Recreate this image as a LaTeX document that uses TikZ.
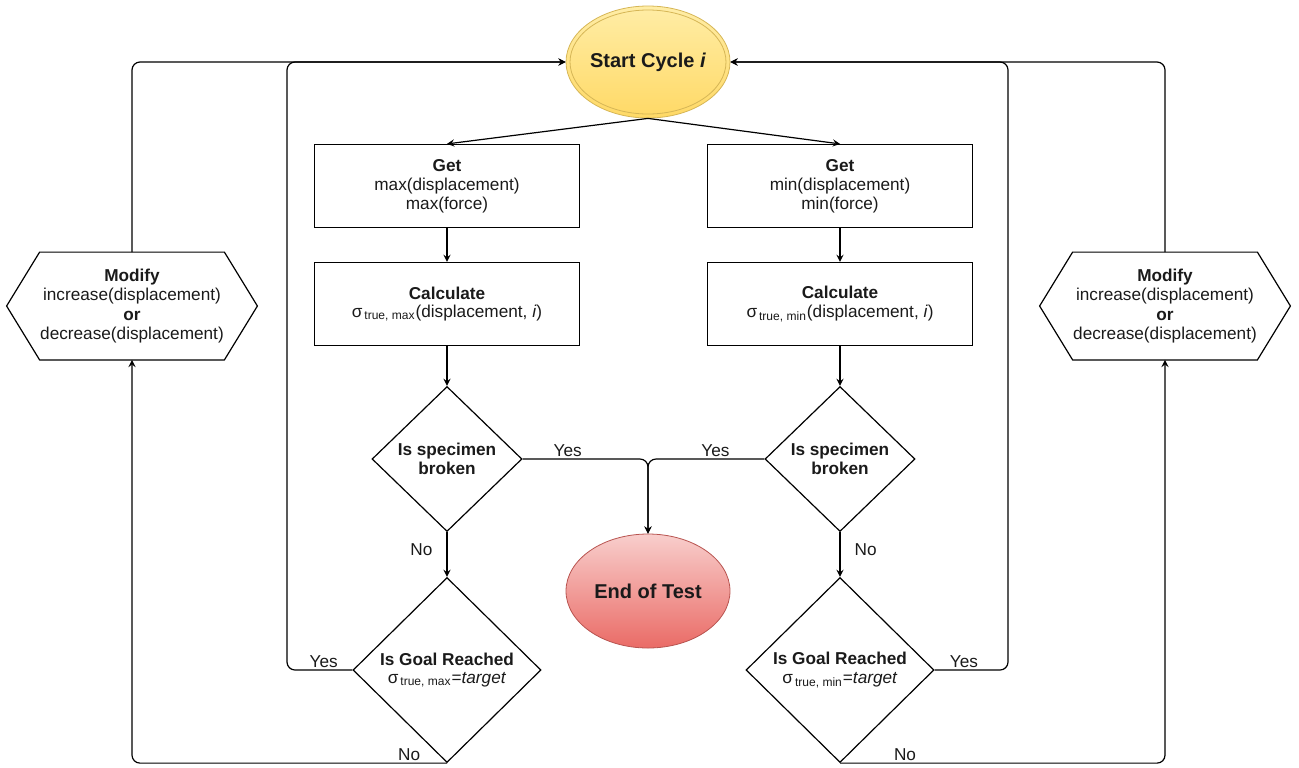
\documentclass[tikz,border=0pt]{standalone}
\usepackage{fontspec}
\setsansfont{Liberation Sans}
\usetikzlibrary{shapes.geometric}
\definecolor{startfill}{HTML}{FFEDA6}
\definecolor{startshade}{HTML}{FFD966}
\definecolor{startline}{HTML}{D6B656}
\definecolor{endfill}{HTML}{F8CECC}
\definecolor{endshade}{HTML}{EA6B66}
\definecolor{endline}{HTML}{B85450}
\definecolor{ink}{HTML}{1A1A1A}

\begin{document}
\begin{tikzpicture}[x=0.5pt, y=-0.5pt, >=stealth]
  \tikzset{
    font={\fontsize{8.6pt}{9.4pt}\sffamily},
    every node/.style={text=ink},
    process/.style={draw, semithick, rectangle, minimum width=132.5pt, minimum height=41.5pt, inner sep=0pt, align=center},
    decision/.style={draw, semithick, diamond, minimum width=75pt, minimum height=72.5pt, inner sep=0pt, align=center},
    goal/.style={decision, minimum width=94pt, minimum height=92.5pt},
    modify/.style={minimum width=125pt, minimum height=53.5pt, inner sep=0pt, align=center, font={\fontsize{8.6pt}{9.8pt}\sffamily}},
    terminal/.style={ellipse, inner sep=0pt, font={\fontsize{10pt}{12pt}\sffamily\bfseries}},
    flow/.style={->, semithick, rounded corners=4pt},
    flowtext/.style={inner sep=0pt},
  }

  \def\hexborder#1{
    \draw[semithick] ([xshift=16.5pt]#1.north west) -- ([xshift=-16.5pt]#1.north east) -- (#1.east)
      -- ([xshift=-16.5pt]#1.south east) -- ([xshift=16.5pt]#1.south west) -- (#1.west) -- cycle;
  }

  \useasboundingbox (0,0) rectangle (1299,767);

  % start and end
  \node[terminal, draw=startline, top color=startfill, bottom color=startshade,
        minimum width=82pt, minimum height=56pt] (start) at (648,62) {Start Cycle \textit{i}};
  \draw[startline] (start.center) ellipse [x radius=39pt, y radius=26pt];
  \node[terminal, draw=endline, top color=endfill, bottom color=endshade,
        minimum width=82pt, minimum height=57pt] (endtest) at (648,591) {End of Test};

  % max branch
  \node[process] (getmax) at (447,186) {\textbf{Get}\\max(displacement)\\max(force)};
  \node[process] (calcmax) at (447,304) {\textbf{Calculate}\\σ\textsubscript{\,true, max}(displacement, \textit{i})};
  \node[decision] (brokenmax) at (447,459) {\textbf{Is specimen}\\\textbf{broken}};
  \node[goal] (goalmax) at (447,670) {\textbf{Is Goal Reached}\\σ\textsubscript{\,true, max}=\textit{target}};
  \node[modify] (modifymax) at (132,306) {\textbf{Modify}\\increase(displacement)\\\textbf{or}\\decrease(displacement)};
  \hexborder{modifymax}

  % min branch
  \node[process] (getmin) at (840,186) {\textbf{Get}\\min(displacement)\\min(force)};
  \node[process] (calcmin) at (840,304) {\textbf{Calculate}\\σ\textsubscript{\,true, min}(displacement, \textit{i})};
  \node[decision] (brokenmin) at (840,459) {\textbf{Is specimen}\\\textbf{broken}};
  \node[goal] (goalmin) at (840,670) {\textbf{Is Goal Reached}\\σ\textsubscript{\,true, min}=\textit{target}};
  \node[modify] (modifymin) at (1165,306) {\textbf{Modify}\\increase(displacement)\\\textbf{or}\\decrease(displacement)};
  \hexborder{modifymin}

  \coordinate (loopmax) at (287,62);
  \coordinate (outermax) at (132,62);
  \coordinate (loopmin) at (1008,62);
  \coordinate (outermin) at (1165,62);

  % straight down
  \draw[flow] (start.south) -- (getmax.north);
  \draw[flow] (start.south) -- (getmin.north);
  \draw[flow] (getmax) -- (calcmax);
  \draw[flow] (getmin) -- (calcmin);
  \draw[flow] (calcmax) -- (brokenmax);
  \draw[flow] (calcmin) -- (brokenmin);
  \draw[flow] (brokenmax) -- node[flowtext, pos=0.4, left=7pt] (nobrokenmax) {No} (goalmax);
  \draw[flow] (brokenmin) -- node[flowtext, pos=0.4, right=7pt] (nobrokenmin) {No} (goalmin);

  % specimen broken
  \draw[flow] (brokenmax.east) -| node[flowtext, pos=0.18, above=1pt] (yesbrokenmax) {Yes} (endtest.north);
  \draw[flow] (brokenmin.west) -| node[flowtext, pos=0.21, above=1pt] (yesbrokenmin) {Yes} (endtest.north);

  % goal reached, next cycle
  \draw[flow] (goalmax.west) -| node[flowtext, pos=0.22, above=1pt] (yesgoalmax) {Yes} (loopmax) -- (start.west);
  \draw[flow] (goalmin.east) -| node[flowtext, pos=0.2, above=1pt] (yesgoalmin) {Yes} (loopmin) -- (start.east);

  % goal not reached, modify
  \draw[flow] (goalmax.south) -| node[flowtext, pos=0.06, above=1pt] (nogoalmax) {No} (modifymax.south);
  \draw[flow] (goalmin.south) -| node[flowtext, pos=0.1, above=1pt] (nogoalmin) {No} (modifymin.south);
  \draw[flow] (modifymax.north) -- (outermax) -- (start.west);
  \draw[flow] (modifymin.north) -- (outermin) -- (start.east);

\end{tikzpicture}
\end{document}
